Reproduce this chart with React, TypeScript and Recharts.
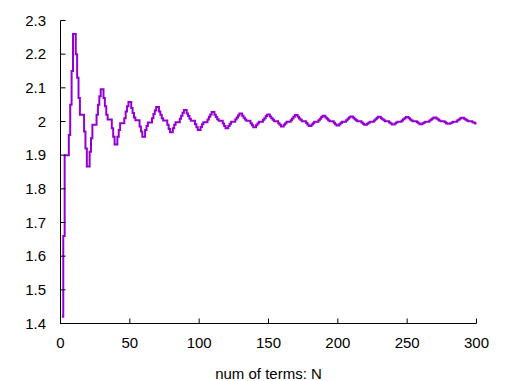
import { LineChart, Line, XAxis, YAxis } from "recharts";

// partial sums, one array per 20 terms
const terms001 = [1.42, 1.66, 1.9, 1.9, 1.9, 1.96, 2.05, 2.15, 2.26, 2.26, 2.2, 2.13, 2.07, 2.02, 2.02, 2.02, 1.97, 1.92, 1.866, 1.866];
const terms021 = [1.91, 1.95, 1.99, 1.99, 1.99, 2.02, 2.05, 2.075, 2.096, 2.096, 2.07, 2.045, 2.02, 2.006, 2.006, 2.006, 1.98, 1.955, 1.932, 1.932];
const terms041 = [1.955, 1.975, 1.995, 1.995, 1.995, 2.01, 2.03, 2.045, 2.058, 2.058, 2.04, 2.025, 2.012, 2.004, 2.004, 2.004, 1.985, 1.97, 1.955, 1.955];
const terms061 = [1.975, 1.987, 1.997, 1.997, 1.997, 2.01, 2.022, 2.033, 2.043, 2.043, 2.03, 2.02, 2.01, 2.003, 2.003, 2.003, 1.99, 1.978, 1.968, 1.968];
const terms081 = [1.98, 1.99, 1.998, 1.998, 1.998, 2.008, 2.017, 2.026, 2.034, 2.034, 2.024, 2.016, 2.008, 2.002, 2.002, 2.002, 1.992, 1.983, 1.975, 1.975];
const terms101 = [1.984, 1.992, 1.998, 1.998, 1.998, 2.006, 2.014, 2.021, 2.028, 2.028, 2.02, 2.013, 2.007, 2.002, 2.002, 2.002, 1.994, 1.987, 1.98, 1.98];
const terms121 = [1.987, 1.993, 1.999, 1.999, 1.999, 2.006, 2.012, 2.018, 2.024, 2.024, 2.017, 2.011, 2.006, 2.002, 2.002, 2.002, 1.995, 1.989, 1.983, 1.983];
const terms141 = [1.989, 1.994, 1.999, 1.999, 1.999, 2.005, 2.01, 2.016, 2.021, 2.021, 2.015, 2.01, 2.005, 2.001, 2.001, 2.001, 1.995, 1.99, 1.985, 1.985];
const terms161 = [1.99, 1.995, 1.999, 1.999, 1.999, 2.004, 2.009, 2.014, 2.019, 2.019, 2.014, 2.009, 2.005, 2.001, 2.001, 2.001, 1.996, 1.991, 1.987, 1.987];
const terms181 = [1.991, 1.995, 1.999, 1.999, 1.999, 2.004, 2.008, 2.013, 2.017, 2.017, 2.012, 2.008, 2.004, 2.001, 2.001, 2.001, 1.996, 1.992, 1.988, 1.988];
const terms201 = [1.992, 1.996, 1.999, 1.999, 1.999, 2.004, 2.008, 2.012, 2.015, 2.015, 2.011, 2.007, 2.004, 2.001, 2.001, 2.001, 1.997, 1.993, 1.99, 1.99];
const terms221 = [1.993, 1.996, 1.999, 1.999, 1.999, 2.003, 2.007, 2.011, 2.014, 2.014, 2.01, 2.007, 2.004, 2.001, 2.001, 2.001, 1.997, 1.994, 1.991, 1.991];
const terms241 = [1.994, 1.997, 1.999, 1.999, 1.999, 2.003, 2.007, 2.01, 2.013, 2.013, 2.01, 2.006, 2.003, 2.001, 2.001, 2.001, 1.998, 1.995, 1.992, 1.992];
const terms261 = [1.995, 1.997, 1.999, 1.999, 1.999, 2.003, 2.006, 2.009, 2.012, 2.012, 2.009, 2.006, 2.003, 2.001, 2.001, 2.001, 1.998, 1.995, 1.993, 1.993];
const terms281 = [1.995, 1.997, 1.999, 1.999, 1.999, 2.003, 2.006, 2.009, 2.011, 2.011, 2.008, 2.005, 2.003, 2.001, 2.001, 2.001, 1.998, 1.996, 1.994, 1.994];

const xTicks = [0, 50, 100, 150, 200, 250, 300];
const yTicks = [1.4, 1.5, 1.6, 1.7, 1.8, 1.9, 2, 2.1, 2.2, 2.3];

const sums = [
  ...terms001, ...terms021, ...terms041, ...terms061, ...terms081,
  ...terms101, ...terms121, ...terms141, ...terms161, ...terms181,
  ...terms201, ...terms221, ...terms241, ...terms261, ...terms281,
];
const data = sums.map((s, i) => ({ n: i + 1, s }));

const font = "'Liberation Sans', Arial, sans-serif";
const tickStyle = { fill: "#000", fontSize: 15, fontFamily: font };
const noLabel = () => <g />;

export default function App() {
  return (
    <div style={{ position: "absolute", left: 0, top: 0, width: 510, height: 381, background: "#fff", fontFamily: font }}>
      <LineChart
        width={510}
        height={381}
        data={data}
        margin={{ top: 20.5, right: 33.5, bottom: 0, left: 0.5 }}
      >
        <XAxis
          xAxisId="b"
          dataKey="n"
          type="number"
          domain={[0, 300]}
          ticks={xTicks}
          height={57.5}
          stroke="#000"
          tickSize={-5}
          tickMargin={19}
          tick={tickStyle}
          label={{ value: "num of terms: N", position: "insideBottom", offset: 2, fill: "#000", fontSize: 15, fontFamily: font }}
        />
        <XAxis
          xAxisId="t"
          orientation="top"
          dataKey="n"
          type="number"
          domain={[0, 300]}
          ticks={xTicks}
          height={0}
          stroke="#000"
          tickSize={-5}
          tick={noLabel}
        />
        <YAxis
          yAxisId="l"
          type="number"
          domain={[1.4, 2.3]}
          ticks={yTicks}
          width={60}
          stroke="#000"
          tickSize={-5}
          tickMargin={19.5}
          tick={tickStyle}
          allowDataOverflow
        />
        <YAxis
          yAxisId="r"
          orientation="right"
          type="number"
          domain={[1.4, 2.3]}
          ticks={yTicks}
          width={0}
          stroke="#000"
          tickSize={-5}
          tick={noLabel}
          allowDataOverflow
        />
        <Line
          xAxisId="b"
          yAxisId="l"
          type="stepAfter"
          dataKey="s"
          stroke="#9400d3"
          strokeWidth={2}
          dot={false}
          isAnimationActive={false}
        />
      </LineChart>
    </div>
  );
}
